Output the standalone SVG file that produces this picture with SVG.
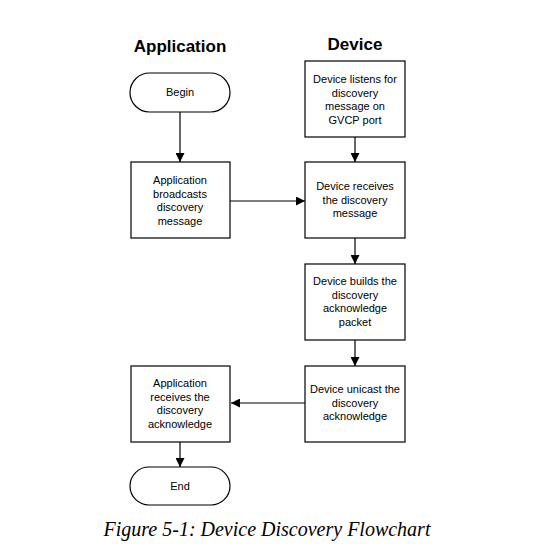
<svg xmlns="http://www.w3.org/2000/svg" width="549" height="559" viewBox="0 0 549 559">
<style>
.n{fill:#fff;stroke:#000;stroke-width:1.2}
.t{font-family:"Liberation Sans",Arial,sans-serif;font-size:11px;text-anchor:middle;fill:#000}
.h{font-family:"Liberation Sans",Arial,sans-serif;font-size:17px;font-weight:bold;text-anchor:middle;fill:#000}
.c{stroke:#000;stroke-width:1.2;fill:none;marker-end:url(#a)}
</style>
<defs>
<marker id="a" viewBox="0 0 10 10" refX="10" refY="5" markerWidth="9" markerHeight="9" markerUnits="userSpaceOnUse" orient="auto">
<path d="M0,0 L10,5 L0,10 z" fill="#000"/>
</marker>
</defs>
<rect width="549" height="559" fill="#fff"/>
<text class="h" x="180" y="52">Application</text>
<text class="h" x="355" y="50">Device</text>
<g id="connectors">
<line class="c" x1="180" y1="112" x2="180" y2="162"/>
<line class="c" x1="355" y1="137" x2="355" y2="162"/>
<line class="c" x1="230" y1="201" x2="305" y2="201"/>
<line class="c" x1="355" y1="238" x2="355" y2="264"/>
<line class="c" x1="355" y1="340" x2="355" y2="366"/>
<line class="c" x1="305" y1="403" x2="231" y2="403"/>
<line class="c" x1="180" y1="442" x2="180" y2="467"/>
</g>
<g id="begin">
<rect class="n" x="130" y="73" width="100" height="39" rx="19.5" ry="19.5"/>
<text class="t" x="180" y="96">Begin</text>
</g>
<g id="listen">
<rect class="n" x="305" y="61" width="100" height="76"/>
<text class="t" x="355" y="83">Device listens for</text>
<text class="t" x="355" y="96.5">discovery</text>
<text class="t" x="355" y="110">message on</text>
<text class="t" x="355" y="123.5">GVCP port</text>
</g>
<g id="broadcast">
<rect class="n" x="131" y="162" width="99" height="76"/>
<text class="t" x="180" y="184">Application</text>
<text class="t" x="180" y="197.5">broadcasts</text>
<text class="t" x="180" y="211">discovery</text>
<text class="t" x="180" y="224.5">message</text>
</g>
<g id="receive">
<rect class="n" x="305" y="162" width="100" height="76"/>
<text class="t" x="355" y="190">Device receives</text>
<text class="t" x="355" y="203.5">the discovery</text>
<text class="t" x="355" y="217">message</text>
</g>
<g id="build">
<rect class="n" x="305" y="264" width="100" height="76"/>
<text class="t" x="355" y="285">Device builds the</text>
<text class="t" x="355" y="298.5">discovery</text>
<text class="t" x="355" y="312">acknowledge</text>
<text class="t" x="355" y="325.5">packet</text>
</g>
<g id="unicast">
<rect class="n" x="305" y="366" width="100" height="76"/>
<text class="t" x="355" y="393">Device unicast the</text>
<text class="t" x="355" y="407">discovery</text>
<text class="t" x="355" y="420">acknowledge</text>
</g>
<g id="appreceive">
<rect class="n" x="131" y="366" width="99" height="76"/>
<text class="t" x="180" y="387">Application</text>
<text class="t" x="180" y="400.5">receives the</text>
<text class="t" x="180" y="414">discovery</text>
<text class="t" x="180" y="427.5">acknowledge</text>
</g>
<g id="end">
<rect class="n" x="130" y="467" width="100" height="38" rx="19" ry="19"/>
<text class="t" x="180" y="490">End</text>
</g>
<text x="267" y="536" font-family="Liberation Serif,'Times New Roman',serif" font-style="italic" font-size="20" text-anchor="middle" fill="#000">Figure 5-1: Device Discovery Flowchart</text>
</svg>
